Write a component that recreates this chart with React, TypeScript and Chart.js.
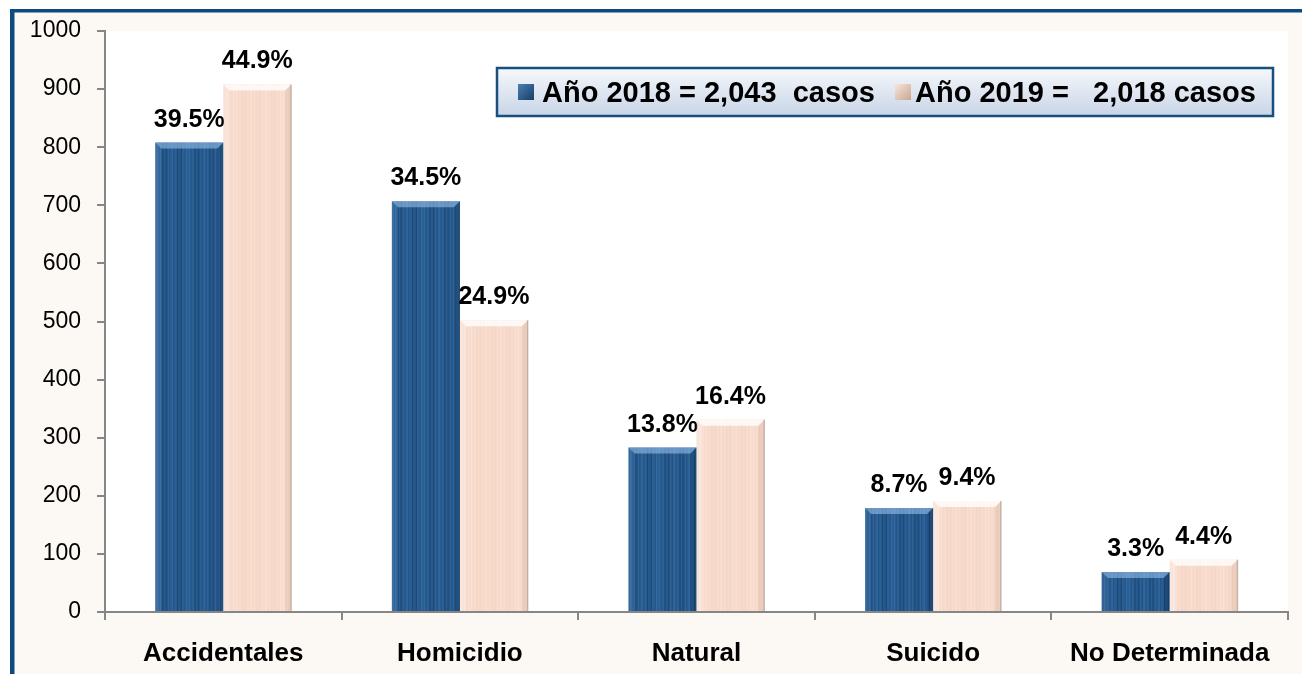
import React, { useEffect, useRef } from "react";
import { Chart, registerables } from "chart.js";
Chart.register(...registerables);

const categories = ["Accidentales", "Homicidio", "Natural", "Suicido", "No Determinada"];
const values2018 = [808, 707, 283, 179, 69];
const values2019 = [908, 502, 331, 191, 90];
const pct2018 = ["39.5%", "34.5%", "13.8%", "8.7%", "3.3%"];
const pct2019 = ["44.9%", "24.9%", "16.4%", "9.4%", "4.4%"];
const legendLabels = ["Año 2018 = 2,043  casos", "Año 2019 =   2,018 casos"];
const yMin = 0;
const yMax = 1000;
const yStep = 100;

function makePattern(kind: "blue" | "peach"): CanvasPattern | string {
  const c = document.createElement("canvas");
  c.width = 47;
  c.height = 240;
  const g = c.getContext("2d");
  const base = kind === "blue" ? "#275b8f" : "#f7dacb";
  if (!g) return base;
  g.fillStyle = base;
  g.fillRect(0, 0, c.width, c.height);
  for (let i = 0; i < c.width; i++) {
    const v = Math.sin(i * 1.7) * 0.5 + Math.sin(i * 0.43 + 1) * 0.35 + Math.sin(i * 3.1) * 0.15;
    if (kind === "blue") {
      g.fillStyle = v > 0 ? `rgba(80,140,200,${0.3 * v})` : `rgba(15,40,75,${-0.4 * v})`;
    } else {
      g.fillStyle = v > 0 ? `rgba(255,240,232,${0.35 * v})` : `rgba(235,195,170,${-0.18 * v})`;
    }
    g.fillRect(i, 0, 1, c.height);
  }
  const p = g.createPattern(c, "repeat");
  return p || base;
}

const framePlugin = {
  id: "frame",
  beforeDraw(chart: any) {
    const { ctx, width, height, chartArea } = chart;
    ctx.save();
    ctx.fillStyle = "#ffffff";
    ctx.fillRect(0, 0, width, height);
    ctx.fillStyle = "#fcf8f3";
    ctx.fillRect(14, 12, width - 14, height - 12);
    ctx.fillStyle = "#0d4a80";
    ctx.fillRect(10, 9, width - 10, 3.5);
    ctx.fillRect(10, 9, 4.5, height - 9);
    ctx.fillStyle = "#ffffff";
    ctx.fillRect(chartArea.left, chartArea.top, chartArea.right - chartArea.left, chartArea.bottom - chartArea.top);
    ctx.restore();
  },
};

const barDecorPlugin = {
  id: "barDecor",
  afterDatasetsDraw(chart: any) {
    const { ctx } = chart;
    ctx.save();
    chart.data.datasets.forEach((ds: any, di: number) => {
      const meta = chart.getDatasetMeta(di);
      meta.data.forEach((bar: any, i: number) => {
        const w = bar.width;
        const l = bar.x - w / 2;
        const r = bar.x + w / 2;
        const t = bar.y;
        const b = bar.base;
        const bv = 6;
        ctx.beginPath();
        ctx.moveTo(l, t);
        ctx.lineTo(r, t);
        ctx.lineTo(r - bv, t + bv);
        ctx.lineTo(l + bv, t + bv);
        ctx.closePath();
        ctx.fillStyle = di === 0 ? "rgba(160,200,240,0.55)" : "rgba(255,255,255,0.8)";
        ctx.fill();
        ctx.beginPath();
        ctx.moveTo(l, t);
        ctx.lineTo(l + bv, t + bv);
        ctx.lineTo(l + bv, b);
        ctx.lineTo(l, b);
        ctx.closePath();
        ctx.fillStyle = di === 0 ? "rgba(120,170,220,0.2)" : "rgba(255,255,255,0.3)";
        ctx.fill();
        ctx.beginPath();
        ctx.moveTo(r, t);
        ctx.lineTo(r - bv, t + bv);
        ctx.lineTo(r - bv, b);
        ctx.lineTo(r, b);
        ctx.closePath();
        ctx.fillStyle = di === 0 ? "rgba(10,30,60,0.22)" : "rgba(190,150,130,0.18)";
        ctx.fill();
        if (di === 1) {
          ctx.fillStyle = "rgba(160,150,145,0.55)";
          ctx.fillRect(r - 1, t, 1.5, b - t);
        }
        const txt = di === 0 ? pct2018[i] : pct2019[i];
        ctx.font = "bold 25px 'Liberation Sans', Arial, sans-serif";
        ctx.fillStyle = "#000000";
        ctx.textAlign = "center";
        ctx.textBaseline = "alphabetic";
        ctx.fillText(txt, bar.x, t - 16);
      });
    });
    ctx.restore();
  },
};

const legendPlugin = {
  id: "customLegend",
  afterDraw(chart: any) {
    const { ctx } = chart;
    ctx.save();
    const x = 497, y = 68, w = 776, h = 48;
    const grad = ctx.createLinearGradient(0, y, 0, y + h);
    grad.addColorStop(0, "#f6f8fb");
    grad.addColorStop(1, "#c8d5e7");
    ctx.fillStyle = grad;
    ctx.fillRect(x, y, w, h);
    ctx.strokeStyle = "#17507f";
    ctx.lineWidth = 2.5;
    ctx.strokeRect(x, y, w, h);
    const markers = [
      { mx: 518, tx: 542, c1: "#4a7fb5", c2: "#163d66" },
      { mx: 895, tx: 915, c1: "#f6e6dc", c2: "#c9a690" },
    ];
    markers.forEach((m, i) => {
      const mg = ctx.createLinearGradient(m.mx, 84, m.mx + 16, 100);
      mg.addColorStop(0, m.c1);
      mg.addColorStop(1, m.c2);
      ctx.fillStyle = mg;
      ctx.fillRect(m.mx, 84, 16, 16);
      ctx.font = "bold 29px 'Liberation Sans', Arial, sans-serif";
      ctx.fillStyle = "#000000";
      ctx.textAlign = "left";
      ctx.textBaseline = "alphabetic";
      ctx.fillText(legendLabels[i], m.tx, 102);
    });
    ctx.restore();
  },
};

export default function App() {
  const ref = useRef<HTMLCanvasElement | null>(null);
  useEffect(() => {
    if (!ref.current) return;
    const chart = new Chart(ref.current, {
      type: "bar",
      data: {
        labels: categories,
        datasets: [
          { label: legendLabels[0], data: values2018, backgroundColor: makePattern("blue") as any, borderWidth: 0 },
          { label: legendLabels[1], data: values2019, backgroundColor: makePattern("peach") as any, borderWidth: 0 },
        ],
      },
      options: {
        responsive: false,
        animation: false,
        layout: { padding: { left: 0, top: 31, right: 14, bottom: 0 } },
        datasets: { bar: { categoryPercentage: 0.575, barPercentage: 1 } },
        plugins: { legend: { display: false }, tooltip: { enabled: false }, title: { display: false } },
        scales: {
          x: {
            ticks: {
              font: { family: "'Liberation Sans', Arial, sans-serif", size: 26, weight: "bold" },
              color: "#000000",
              padding: 18,
              maxRotation: 0,
              autoSkip: false,
            },
            grid: { drawOnChartArea: false, drawTicks: true, tickLength: 8, color: "#868686", lineWidth: 2, offset: true },
            border: { display: true, color: "#868686", width: 2 },
            afterFit: (s: any) => { s.height = 62; },
          },
          y: {
            min: yMin,
            max: yMax,
            ticks: {
              stepSize: yStep,
              font: { family: "'Liberation Sans', Arial, sans-serif", size: 23 },
              color: "#000000",
              padding: 16,
              callback: (v: any) => String(v),
            },
            grid: { drawOnChartArea: false, drawTicks: true, tickLength: 8, color: "#868686", lineWidth: 2 },
            border: { display: true, color: "#868686", width: 2 },
            afterFit: (s: any) => { s.width = 105; },
          },
        },
      },
      plugins: [framePlugin, barDecorPlugin, legendPlugin],
    } as any);
    return () => chart.destroy();
  }, []);
  return (
    <div style={{ position: "fixed", left: 0, top: 0, width: 1302, height: 674, background: "#ffffff" }}>
      <canvas ref={ref} width={1302} height={674} style={{ display: "block", width: 1302, height: 674 }} />
    </div>
  );
}
